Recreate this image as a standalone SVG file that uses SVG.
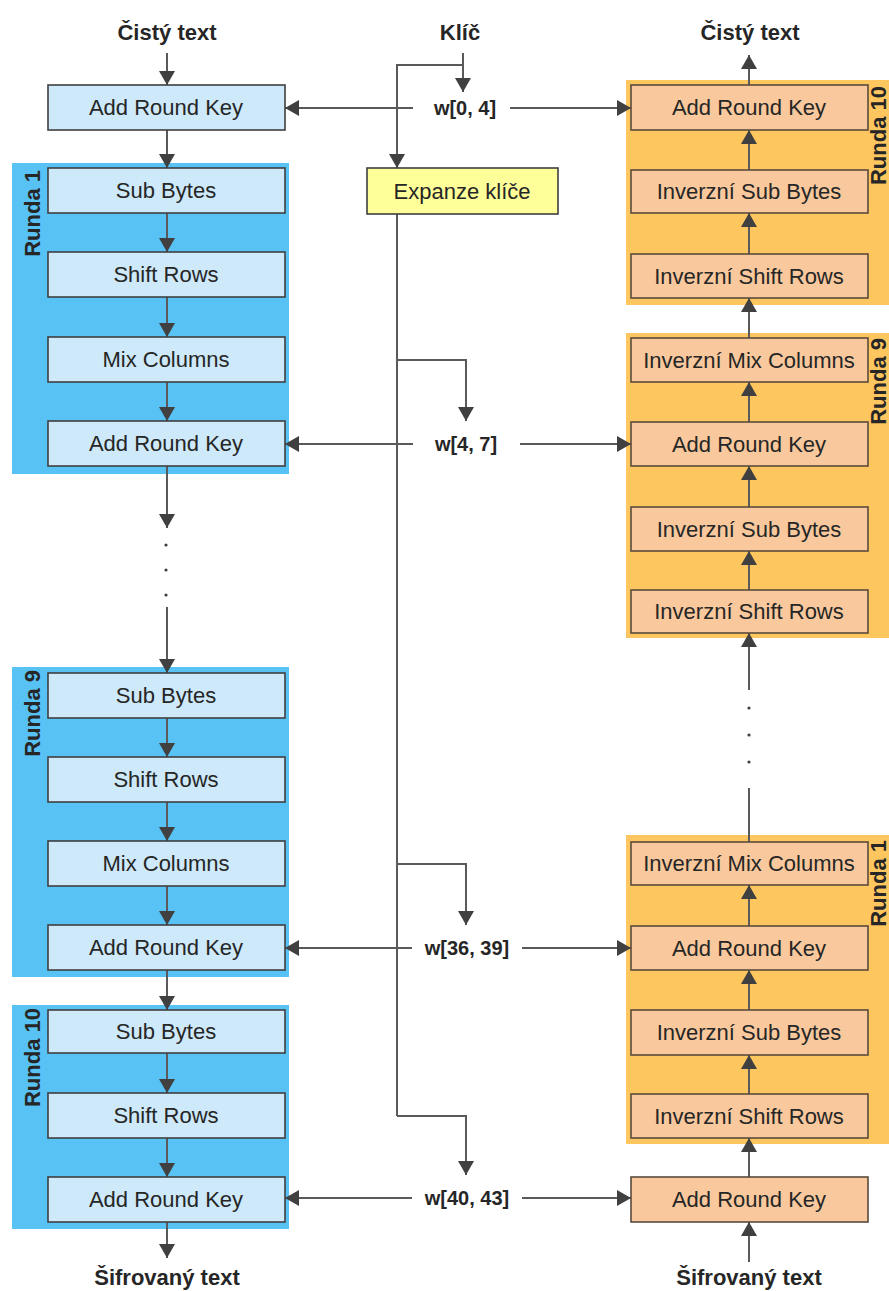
<svg xmlns="http://www.w3.org/2000/svg" width="889" height="1291" viewBox="0 0 889 1291">
<style>
.bg{fill:#ffffff}
.pl{fill:#58C2F5}
.pr{fill:#FEC65F}
.bl{fill:#CDE9FA;stroke:#3f3f3f;stroke-width:1.6}
.br{fill:#F9C99D;stroke:#5a4b3d;stroke-width:1.6}
.by{fill:#FFFF99;stroke:#3f3f3f;stroke-width:1.6}
.t{font-family:"Liberation Sans",Arial,sans-serif;font-size:22px;fill:#262626;text-anchor:middle}
.b{font-family:"Liberation Sans",Arial,sans-serif;font-size:22px;font-weight:bold;fill:#262626;text-anchor:middle}
.w{font-family:"Liberation Sans",Arial,sans-serif;font-size:20px;font-weight:bold;fill:#262626;text-anchor:middle}
.r{font-family:"Liberation Sans",Arial,sans-serif;font-size:22px;font-weight:bold;fill:#262626;text-anchor:end}
.c{fill:none;stroke:#5a5a5a;stroke-width:2}
.a{marker-end:url(#ah)}
.dot{fill:#404040}
</style>
<defs>
<marker id="ah" viewBox="0 0 14 16" refX="14" refY="8" markerWidth="14" markerHeight="16" markerUnits="userSpaceOnUse" orient="auto">
<path d="M0,0 L14,8 L0,16 z" fill="#404040"/>
</marker>
</defs>
<rect class="bg" x="0" y="0" width="889" height="1291"/>

<g id="panels">
<rect id="panel-l-r1" class="pl" x="12" y="163" width="277" height="311"/>
<rect id="panel-l-r9" class="pl" x="12" y="667" width="277" height="310"/>
<rect id="panel-l-r10" class="pl" x="12" y="1005" width="277" height="224"/>
<rect id="panel-r-r10" class="pr" x="626" y="80" width="263" height="225"/>
<rect id="panel-r-r9" class="pr" x="626" y="333" width="263" height="305"/>
<rect id="panel-r-r1" class="pr" x="626" y="835" width="263" height="309"/>
<text class="r" transform="translate(40,170) rotate(-90)">Runda 1</text>
<text class="r" transform="translate(40,670) rotate(-90)">Runda 9</text>
<text class="r" transform="translate(40,1008) rotate(-90)">Runda 10</text>
<text class="r" transform="translate(886,86) rotate(-90)">Runda 10</text>
<text class="r" transform="translate(886,338) rotate(-90)">Runda 9</text>
<text class="r" transform="translate(886,840) rotate(-90)">Runda 1</text>
</g>

<g id="connectors">
<!-- left column -->
<path class="c a" d="M167,53 V85"/>
<path class="c a" d="M167,130 V168"/>
<path class="c a" d="M167,213 V252"/>
<path class="c a" d="M167,297 V337"/>
<path class="c a" d="M167,382 V421"/>
<path class="c a" d="M167,466 V528"/>
<path class="c a" d="M167,607 V673"/>
<path class="c a" d="M167,718 V757"/>
<path class="c a" d="M167,802 V841"/>
<path class="c a" d="M167,886 V925"/>
<path class="c a" d="M167,970 V1010"/>
<path class="c a" d="M167,1053 V1093"/>
<path class="c a" d="M167,1138 V1177"/>
<path class="c a" d="M167,1222 V1258"/>
<!-- right column -->
<path class="c a" d="M749,85 V55"/>
<path class="c a" d="M749,170 V130"/>
<path class="c a" d="M749,254 V213"/>
<path class="c a" d="M749,338 V298"/>
<path class="c a" d="M749,422 V382"/>
<path class="c a" d="M749,507 V466"/>
<path class="c a" d="M749,590 V551"/>
<path class="c a" d="M749,690 V633"/>
<path class="c" d="M749,842 V788"/>
<path class="c a" d="M749,926 V885"/>
<path class="c a" d="M749,1010 V970"/>
<path class="c a" d="M749,1094 V1055"/>
<path class="c a" d="M749,1177 V1138"/>
<path class="c a" d="M749,1262 V1222"/>
<!-- key schedule -->
<path class="c a" d="M463,53 V92"/>
<path class="c a" d="M463,65 H397 V168"/>
<path class="c" d="M397,214 V1116"/>
<path class="c a" d="M397,360 H466 V421"/>
<path class="c a" d="M397,864 H466 V925"/>
<path class="c a" d="M397,1116 H466 V1175"/>
<!-- round key arrows -->
<path class="c a" d="M413,108 H285"/>
<path class="c a" d="M510,108 H631"/>
<path class="c a" d="M413,444 H285"/>
<path class="c a" d="M520,444 H631"/>
<path class="c a" d="M412,948 H285"/>
<path class="c a" d="M522,948 H631"/>
<path class="c a" d="M412,1198 H285"/>
<path class="c a" d="M522,1198 H631"/>
<!-- dots -->
<circle class="dot" cx="166" cy="545" r="1.6"/>
<circle class="dot" cx="166" cy="570" r="1.6"/>
<circle class="dot" cx="166" cy="595" r="1.6"/>
<circle class="dot" cx="749" cy="708" r="1.6"/>
<circle class="dot" cx="749" cy="735" r="1.6"/>
<circle class="dot" cx="749" cy="762" r="1.6"/>
</g>

<g id="labels">
<text class="b" x="167" y="40">Čistý text</text>
<text class="b" x="460" y="40">Klíč</text>
<text class="b" x="750" y="40">Čistý text</text>
<text class="b" x="167" y="1285">Šifrovaný text</text>
<text class="b" x="749" y="1285">Šifrovaný text</text>
<text class="w" x="465" y="115">w[0, 4]</text>
<text class="w" x="466" y="451">w[4, 7]</text>
<text class="w" x="467" y="955">w[36, 39]</text>
<text class="w" x="467" y="1205">w[40, 43]</text>
</g>

<g id="n-l-ark0"><rect class="bl" x="48" y="85" width="237" height="45"/><text class="t" x="166" y="115">Add Round Key</text></g>
<g id="n-l-r1-sb"><rect class="bl" x="48" y="168" width="237" height="45"/><text class="t" x="166" y="198">Sub Bytes</text></g>
<g id="n-l-r1-sr"><rect class="bl" x="48" y="252" width="237" height="45"/><text class="t" x="166" y="282">Shift Rows</text></g>
<g id="n-l-r1-mc"><rect class="bl" x="48" y="337" width="237" height="45"/><text class="t" x="166" y="367">Mix Columns</text></g>
<g id="n-l-r1-ark"><rect class="bl" x="48" y="421" width="237" height="45"/><text class="t" x="166" y="451">Add Round Key</text></g>
<g id="n-l-r9-sb"><rect class="bl" x="48" y="673" width="237" height="45"/><text class="t" x="166" y="703">Sub Bytes</text></g>
<g id="n-l-r9-sr"><rect class="bl" x="48" y="757" width="237" height="45"/><text class="t" x="166" y="787">Shift Rows</text></g>
<g id="n-l-r9-mc"><rect class="bl" x="48" y="841" width="237" height="45"/><text class="t" x="166" y="871">Mix Columns</text></g>
<g id="n-l-r9-ark"><rect class="bl" x="48" y="925" width="237" height="45"/><text class="t" x="166" y="955">Add Round Key</text></g>
<g id="n-l-r10-sb"><rect class="bl" x="48" y="1010" width="237" height="43"/><text class="t" x="166" y="1039">Sub Bytes</text></g>
<g id="n-l-r10-sr"><rect class="bl" x="48" y="1093" width="237" height="45"/><text class="t" x="166" y="1123">Shift Rows</text></g>
<g id="n-l-r10-ark"><rect class="bl" x="48" y="1177" width="237" height="45"/><text class="t" x="166" y="1207">Add Round Key</text></g>

<g id="n-key"><rect class="by" x="367" y="168" width="191" height="46"/><text class="t" x="462" y="199">Expanze klíče</text></g>

<g id="n-r-r10-ark"><rect class="br" x="631" y="85" width="237" height="45"/><text class="t" x="749" y="115">Add Round Key</text></g>
<g id="n-r-r10-isb"><rect class="br" x="631" y="170" width="237" height="43"/><text class="t" x="749" y="199">Inverzní Sub Bytes</text></g>
<g id="n-r-r10-isr"><rect class="br" x="631" y="254" width="237" height="44"/><text class="t" x="749" y="284">Inverzní Shift Rows</text></g>
<g id="n-r-r9-imc"><rect class="br" x="631" y="338" width="237" height="44"/><text class="t" x="749" y="368">Inverzní Mix Columns</text></g>
<g id="n-r-r9-ark"><rect class="br" x="631" y="422" width="237" height="44"/><text class="t" x="749" y="452">Add Round Key</text></g>
<g id="n-r-r9-isb"><rect class="br" x="631" y="507" width="237" height="44"/><text class="t" x="749" y="537">Inverzní Sub Bytes</text></g>
<g id="n-r-r9-isr"><rect class="br" x="631" y="590" width="237" height="43"/><text class="t" x="749" y="619">Inverzní Shift Rows</text></g>
<g id="n-r-r1-imc"><rect class="br" x="631" y="842" width="237" height="43"/><text class="t" x="749" y="871">Inverzní Mix Columns</text></g>
<g id="n-r-r1-ark"><rect class="br" x="631" y="926" width="237" height="44"/><text class="t" x="749" y="956">Add Round Key</text></g>
<g id="n-r-r1-isb"><rect class="br" x="631" y="1010" width="237" height="45"/><text class="t" x="749" y="1040">Inverzní Sub Bytes</text></g>
<g id="n-r-r1-isr"><rect class="br" x="631" y="1094" width="237" height="44"/><text class="t" x="749" y="1124">Inverzní Shift Rows</text></g>
<g id="n-r-ark0"><rect class="br" x="631" y="1177" width="237" height="45"/><text class="t" x="749" y="1207">Add Round Key</text></g>
</svg>
